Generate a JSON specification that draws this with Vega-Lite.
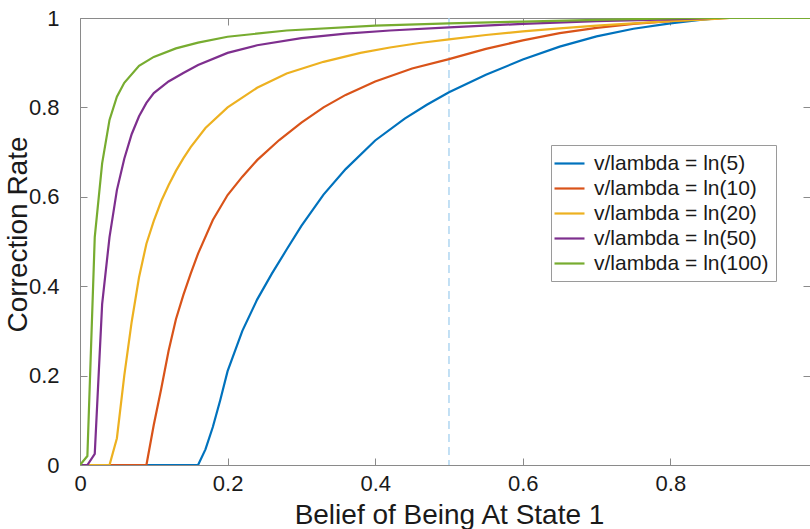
{
  "$schema": "https://vega.github.io/schema/vega-lite/v6.json",
  "width": 730,
  "height": 447,
  "autosize": {"type": "none"},
  "padding": {"left": 80, "top": 18, "right": 0, "bottom": 64},
  "background": "white",
  "config": {
    "font": "Liberation Sans",
    "view": {"stroke": null},
    "axis": {
      "domainColor": "#8a8a8a",
      "tickColor": "#8a8a8a",
      "domainWidth": 1,
      "tickWidth": 1,
      "tickSize": -7,
      "grid": false,
      "labelFlush": false,
      "labelOverlap": false,
      "labelColor": "#1a1a1a",
      "titleColor": "#1a1a1a",
      "labelFontSize": 22,
      "titleFontSize": 28,
      "titleFontWeight": "normal"
    }
  },
  "datasets": {
    "ref": [{"x": 0.5}],
    "curves": [
      {"series": "v/lambda = ln(5)", "x": 0, "y": 0},
      {"series": "v/lambda = ln(5)", "x": 0.16, "y": 0},
      {"series": "v/lambda = ln(5)", "x": 0.17, "y": 0.035},
      {"series": "v/lambda = ln(5)", "x": 0.18, "y": 0.085},
      {"series": "v/lambda = ln(5)", "x": 0.19, "y": 0.145},
      {"series": "v/lambda = ln(5)", "x": 0.2, "y": 0.21},
      {"series": "v/lambda = ln(5)", "x": 0.22, "y": 0.3},
      {"series": "v/lambda = ln(5)", "x": 0.24, "y": 0.37},
      {"series": "v/lambda = ln(5)", "x": 0.26, "y": 0.428},
      {"series": "v/lambda = ln(5)", "x": 0.28, "y": 0.482},
      {"series": "v/lambda = ln(5)", "x": 0.3, "y": 0.535},
      {"series": "v/lambda = ln(5)", "x": 0.33, "y": 0.605},
      {"series": "v/lambda = ln(5)", "x": 0.36, "y": 0.662},
      {"series": "v/lambda = ln(5)", "x": 0.4, "y": 0.726},
      {"series": "v/lambda = ln(5)", "x": 0.44, "y": 0.775},
      {"series": "v/lambda = ln(5)", "x": 0.47, "y": 0.806},
      {"series": "v/lambda = ln(5)", "x": 0.5, "y": 0.834},
      {"series": "v/lambda = ln(5)", "x": 0.55, "y": 0.873},
      {"series": "v/lambda = ln(5)", "x": 0.6, "y": 0.907},
      {"series": "v/lambda = ln(5)", "x": 0.65, "y": 0.936},
      {"series": "v/lambda = ln(5)", "x": 0.7, "y": 0.959},
      {"series": "v/lambda = ln(5)", "x": 0.75, "y": 0.976},
      {"series": "v/lambda = ln(5)", "x": 0.8, "y": 0.988},
      {"series": "v/lambda = ln(5)", "x": 0.84, "y": 0.996},
      {"series": "v/lambda = ln(5)", "x": 0.87, "y": 1},
      {"series": "v/lambda = ln(5)", "x": 1, "y": 1},
      {"series": "v/lambda = ln(10)", "x": 0, "y": 0},
      {"series": "v/lambda = ln(10)", "x": 0.09, "y": 0},
      {"series": "v/lambda = ln(10)", "x": 0.1, "y": 0.09},
      {"series": "v/lambda = ln(10)", "x": 0.11, "y": 0.17},
      {"series": "v/lambda = ln(10)", "x": 0.12, "y": 0.255},
      {"series": "v/lambda = ln(10)", "x": 0.13, "y": 0.326},
      {"series": "v/lambda = ln(10)", "x": 0.14, "y": 0.38},
      {"series": "v/lambda = ln(10)", "x": 0.15, "y": 0.428},
      {"series": "v/lambda = ln(10)", "x": 0.16, "y": 0.473},
      {"series": "v/lambda = ln(10)", "x": 0.18, "y": 0.548},
      {"series": "v/lambda = ln(10)", "x": 0.2, "y": 0.604},
      {"series": "v/lambda = ln(10)", "x": 0.22, "y": 0.645},
      {"series": "v/lambda = ln(10)", "x": 0.24, "y": 0.682},
      {"series": "v/lambda = ln(10)", "x": 0.27, "y": 0.727},
      {"series": "v/lambda = ln(10)", "x": 0.3, "y": 0.766},
      {"series": "v/lambda = ln(10)", "x": 0.33, "y": 0.8},
      {"series": "v/lambda = ln(10)", "x": 0.36, "y": 0.828},
      {"series": "v/lambda = ln(10)", "x": 0.4, "y": 0.858},
      {"series": "v/lambda = ln(10)", "x": 0.45, "y": 0.887},
      {"series": "v/lambda = ln(10)", "x": 0.5, "y": 0.908},
      {"series": "v/lambda = ln(10)", "x": 0.55, "y": 0.931},
      {"series": "v/lambda = ln(10)", "x": 0.6, "y": 0.95},
      {"series": "v/lambda = ln(10)", "x": 0.65, "y": 0.966},
      {"series": "v/lambda = ln(10)", "x": 0.7, "y": 0.978},
      {"series": "v/lambda = ln(10)", "x": 0.75, "y": 0.987},
      {"series": "v/lambda = ln(10)", "x": 0.8, "y": 0.993},
      {"series": "v/lambda = ln(10)", "x": 0.85, "y": 0.998},
      {"series": "v/lambda = ln(10)", "x": 0.88, "y": 1},
      {"series": "v/lambda = ln(10)", "x": 1, "y": 1},
      {"series": "v/lambda = ln(20)", "x": 0, "y": 0},
      {"series": "v/lambda = ln(20)", "x": 0.04, "y": 0},
      {"series": "v/lambda = ln(20)", "x": 0.05, "y": 0.06},
      {"series": "v/lambda = ln(20)", "x": 0.06, "y": 0.2},
      {"series": "v/lambda = ln(20)", "x": 0.07, "y": 0.32},
      {"series": "v/lambda = ln(20)", "x": 0.08, "y": 0.42},
      {"series": "v/lambda = ln(20)", "x": 0.09, "y": 0.495},
      {"series": "v/lambda = ln(20)", "x": 0.1, "y": 0.546},
      {"series": "v/lambda = ln(20)", "x": 0.11, "y": 0.59},
      {"series": "v/lambda = ln(20)", "x": 0.12, "y": 0.626},
      {"series": "v/lambda = ln(20)", "x": 0.13, "y": 0.658},
      {"series": "v/lambda = ln(20)", "x": 0.14, "y": 0.686},
      {"series": "v/lambda = ln(20)", "x": 0.15, "y": 0.711},
      {"series": "v/lambda = ln(20)", "x": 0.17, "y": 0.754},
      {"series": "v/lambda = ln(20)", "x": 0.2, "y": 0.8},
      {"series": "v/lambda = ln(20)", "x": 0.24, "y": 0.844},
      {"series": "v/lambda = ln(20)", "x": 0.28, "y": 0.876},
      {"series": "v/lambda = ln(20)", "x": 0.33, "y": 0.902},
      {"series": "v/lambda = ln(20)", "x": 0.38, "y": 0.922},
      {"series": "v/lambda = ln(20)", "x": 0.42, "y": 0.934},
      {"series": "v/lambda = ln(20)", "x": 0.46, "y": 0.944},
      {"series": "v/lambda = ln(20)", "x": 0.5, "y": 0.952},
      {"series": "v/lambda = ln(20)", "x": 0.55, "y": 0.962},
      {"series": "v/lambda = ln(20)", "x": 0.6, "y": 0.97},
      {"series": "v/lambda = ln(20)", "x": 0.65, "y": 0.977},
      {"series": "v/lambda = ln(20)", "x": 0.7, "y": 0.983},
      {"series": "v/lambda = ln(20)", "x": 0.75, "y": 0.988},
      {"series": "v/lambda = ln(20)", "x": 0.8, "y": 0.993},
      {"series": "v/lambda = ln(20)", "x": 0.85, "y": 0.997},
      {"series": "v/lambda = ln(20)", "x": 0.88, "y": 1},
      {"series": "v/lambda = ln(20)", "x": 1, "y": 1},
      {"series": "v/lambda = ln(50)", "x": 0, "y": 0},
      {"series": "v/lambda = ln(50)", "x": 0.01, "y": 0},
      {"series": "v/lambda = ln(50)", "x": 0.02, "y": 0.025},
      {"series": "v/lambda = ln(50)", "x": 0.03, "y": 0.36},
      {"series": "v/lambda = ln(50)", "x": 0.04, "y": 0.51},
      {"series": "v/lambda = ln(50)", "x": 0.05, "y": 0.615},
      {"series": "v/lambda = ln(50)", "x": 0.06, "y": 0.685},
      {"series": "v/lambda = ln(50)", "x": 0.07, "y": 0.74},
      {"series": "v/lambda = ln(50)", "x": 0.08, "y": 0.78},
      {"series": "v/lambda = ln(50)", "x": 0.09, "y": 0.81},
      {"series": "v/lambda = ln(50)", "x": 0.1, "y": 0.832},
      {"series": "v/lambda = ln(50)", "x": 0.12, "y": 0.858},
      {"series": "v/lambda = ln(50)", "x": 0.14, "y": 0.877},
      {"series": "v/lambda = ln(50)", "x": 0.16, "y": 0.895},
      {"series": "v/lambda = ln(50)", "x": 0.2, "y": 0.922},
      {"series": "v/lambda = ln(50)", "x": 0.24, "y": 0.939},
      {"series": "v/lambda = ln(50)", "x": 0.3, "y": 0.955},
      {"series": "v/lambda = ln(50)", "x": 0.36, "y": 0.965},
      {"series": "v/lambda = ln(50)", "x": 0.42, "y": 0.972},
      {"series": "v/lambda = ln(50)", "x": 0.5, "y": 0.979},
      {"series": "v/lambda = ln(50)", "x": 0.6, "y": 0.987},
      {"series": "v/lambda = ln(50)", "x": 0.7, "y": 0.993},
      {"series": "v/lambda = ln(50)", "x": 0.8, "y": 0.997},
      {"series": "v/lambda = ln(50)", "x": 0.86, "y": 1},
      {"series": "v/lambda = ln(50)", "x": 1, "y": 1},
      {"series": "v/lambda = ln(100)", "x": 0, "y": 0},
      {"series": "v/lambda = ln(100)", "x": 0.01, "y": 0.02},
      {"series": "v/lambda = ln(100)", "x": 0.02, "y": 0.51},
      {"series": "v/lambda = ln(100)", "x": 0.03, "y": 0.675},
      {"series": "v/lambda = ln(100)", "x": 0.04, "y": 0.772},
      {"series": "v/lambda = ln(100)", "x": 0.05, "y": 0.824},
      {"series": "v/lambda = ln(100)", "x": 0.06, "y": 0.855},
      {"series": "v/lambda = ln(100)", "x": 0.08, "y": 0.893},
      {"series": "v/lambda = ln(100)", "x": 0.1, "y": 0.913},
      {"series": "v/lambda = ln(100)", "x": 0.13, "y": 0.932},
      {"series": "v/lambda = ln(100)", "x": 0.16, "y": 0.945},
      {"series": "v/lambda = ln(100)", "x": 0.2, "y": 0.958},
      {"series": "v/lambda = ln(100)", "x": 0.28, "y": 0.972},
      {"series": "v/lambda = ln(100)", "x": 0.4, "y": 0.983},
      {"series": "v/lambda = ln(100)", "x": 0.5, "y": 0.988},
      {"series": "v/lambda = ln(100)", "x": 0.6, "y": 0.992},
      {"series": "v/lambda = ln(100)", "x": 0.7, "y": 0.996},
      {"series": "v/lambda = ln(100)", "x": 0.8, "y": 0.999},
      {"series": "v/lambda = ln(100)", "x": 0.84, "y": 1},
      {"series": "v/lambda = ln(100)", "x": 1, "y": 1}
    ]
  },
  "layer": [
    {
      "data": {"name": "ref"},
      "mark": {"type": "rule", "color": "#a9d3f0", "strokeDash": [8, 5], "strokeWidth": 1.4},
      "encoding": {
        "x": {
          "field": "x", "type": "quantitative",
          "scale": {"domain": [0, 0.9892], "nice": false, "zero": false},
          "axis": {"orient": "top", "labels": false, "title": null, "values": [0, 0.2, 0.4, 0.6, 0.8]}
        }
      }
    },
    {
      "data": {"name": "curves"},
      "mark": {"type": "line", "strokeWidth": 2.2, "clip": true},
      "encoding": {
        "x": {
          "field": "x", "type": "quantitative",
          "scale": {"domain": [0, 0.9892], "nice": false, "zero": false},
          "axis": {
            "orient": "bottom", "title": "Belief of Being At State 1",
            "values": [0, 0.2, 0.4, 0.6, 0.8], "format": "~g", "labelPadding": 15,
            "titleFontSize": 28,
            "titleX": 369, "titleY": 58.5, "titleBaseline": "alphabetic", "titleAlign": "center"
          }
        },
        "y": {
          "field": "y", "type": "quantitative",
          "scale": {"domain": [0, 1], "nice": false},
          "axis": {
            "orient": "left", "title": "Correction Rate",
            "values": [0, 0.2, 0.4, 0.6, 0.8, 1], "format": "~g", "labelPadding": 28,
            "titleX": -54, "titleY": 216, "titleAngle": 270, "titleBaseline": "alphabetic", "titleAlign": "center"
          }
        },
        "color": {
          "field": "series", "type": "nominal",
          "scale": {
            "domain": ["v/lambda = ln(5)", "v/lambda = ln(10)", "v/lambda = ln(20)", "v/lambda = ln(50)", "v/lambda = ln(100)"],
            "range": ["#0072BD", "#D95319", "#EDB120", "#7E2F8E", "#77AC30"]
          },
          "legend": {
            "orient": "none", "legendX": 471, "legendY": 127, "title": null,
            "strokeColor": "#9a9a9a", "fillColor": "white", "padding": 7,
            "labelFontSize": 21, "labelColor": "#1a1a1a", "labelLimit": 0,
            "symbolType": "M-1.5,0H1.5", "symbolSize": 400, "symbolStrokeWidth": 2.2,
            "labelOffset": 13, "rowPadding": 3
          }
        }
      }
    },
    {
      "data": {"name": "curves"},
      "mark": {"type": "point", "opacity": 0},
      "encoding": {
        "x": {
          "field": "x", "type": "quantitative",
          "scale": {"domain": [0, 0.9892], "nice": false, "zero": false},
          "axis": null
        },
        "y": {
          "field": "y", "type": "quantitative",
          "scale": {"domain": [0, 1], "nice": false},
          "axis": {"orient": "right", "labels": false, "title": null, "values": [0, 0.2, 0.4, 0.6, 0.8, 1]}
        }
      }
    }
  ],
  "resolve": {"axis": {"x": "independent", "y": "independent"}}
}
